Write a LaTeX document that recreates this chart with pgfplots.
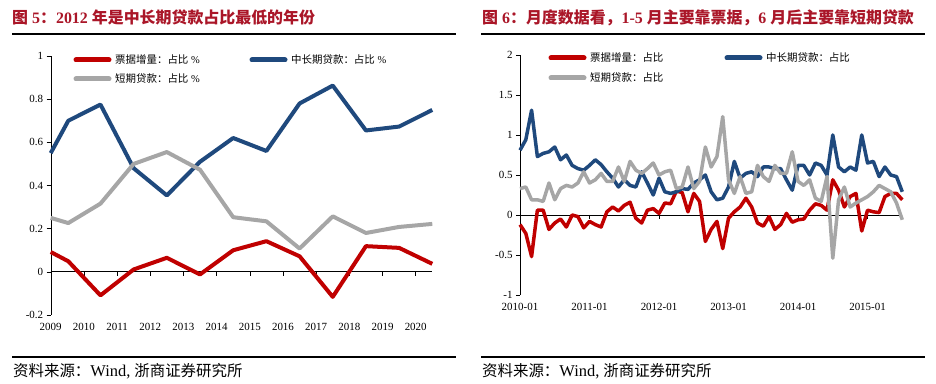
\documentclass[border=0pt]{standalone}
\usepackage{pgfplots}
\pgfplotsset{compat=1.18}
\usepackage{pgfplotstable}
\usepackage{fontspec}
\setmainfont{Liberation Serif}
\newfontfamily\cjk{Noto Sans CJK SC}
\definecolor{titlered}{RGB}{170,22,40}
\definecolor{lred}{RGB}{192,0,0}
\definecolor{lblue}{RGB}{31,73,125}
\definecolor{lgray}{RGB}{166,166,166}

\pgfplotstableread{
x red blue gray
2009 0.092 0.55 0.25
2009.53 0.049 0.70 0.226
2010.5 -0.109 0.775 0.316
2011.5 0.011 0.48 0.50
2012.5 0.065 0.354 0.555
2013.5 -0.012 0.51 0.473
2014.5 0.10 0.62 0.253
2015.5 0.142 0.56 0.234
2016.5 0.072 0.78 0.108
2017.5 -0.116 0.863 0.257
2018.5 0.119 0.655 0.18
2019.5 0.111 0.673 0.208
2020.5 0.037 0.75 0.222
}\yearly

\pgfplotstableread{
m red blue gray
0 -0.12 0.81 0.33
1 -0.23 0.94 0.35
2 -0.52 1.31 0.19
3 0.06 0.73 0.19
4 0.06 0.77 0.17
5 -0.18 0.79 0.40
6 -0.10 0.85 0.19
7 -0.05 0.69 0.33
8 -0.15 0.75 0.37
9 0.00 0.62 0.35
10 -0.02 0.58 0.40
11 -0.16 0.56 0.54
12 -0.08 0.62 0.40
13 -0.12 0.69 0.44
14 -0.15 0.63 0.52
15 0.04 0.54 0.42
16 0.10 0.46 0.42
17 0.05 0.35 0.60
18 0.12 0.44 0.42
19 0.16 0.37 0.67
20 -0.04 0.35 0.56
21 -0.10 0.54 0.52
22 0.06 0.40 0.58
23 0.08 0.25 0.65
24 0.02 0.46 0.50
25 0.15 0.29 0.54
26 0.14 0.27 0.56
27 0.30 0.29 0.33
28 0.28 0.33 0.35
29 0.04 0.32 0.60
30 0.27 0.40 0.33
31 0.17 0.44 0.42
32 -0.33 0.50 0.85
33 -0.18 0.29 0.60
34 -0.08 0.19 0.73
35 -0.42 0.21 1.23
36 -0.04 0.35 0.44
37 0.04 0.67 0.27
38 0.10 0.46 0.48
39 0.21 0.52 0.27
40 0.10 0.54 0.29
41 -0.10 0.48 0.62
42 -0.14 0.60 0.48
43 -0.02 0.60 0.42
44 -0.18 0.58 0.62
45 -0.12 0.58 0.52
46 0.02 0.44 0.52
47 -0.09 0.31 0.79
48 -0.06 0.62 0.42
49 -0.05 0.62 0.37
50 0.06 0.50 0.44
51 0.14 0.65 0.21
52 0.12 0.62 0.17
53 0.06 0.50 0.48
54 0.44 1.00 -0.54
55 0.31 0.60 0.19
56 0.10 0.54 0.35
57 0.23 0.60 0.10
58 0.27 0.56 0.15
59 -0.20 1.00 0.19
60 0.06 0.65 0.23
61 0.04 0.67 0.29
62 0.03 0.48 0.37
63 0.23 0.60 0.33
64 0.27 0.50 0.29
65 0.27 0.48 0.15
66 0.19 0.29 -0.06
}\monthly

\pgfplotsset{
  base/.style={
    scale only axis,
    anchor=south west,
    axis y line=left,
    axis x line=bottom,
    axis line style={-},
    x axis line style={draw=none},
    xtick style={draw=none},
    ytick style={black, line width=0.6pt},
    tick align=outside,
    major tick length=4bp,
    ytick pos=left,
    /pgf/number format/assume math mode=true,
    tick label style={font=\fontsize{11}{11}\selectfont},
    xticklabel style={yshift=-1bp},
    clip=false,
  },
}

\newcommand\source{{\cjk 资料来源：}{\fontsize{16.5}{16}\selectfont Wind,}\hspace{4bp}{\cjk 浙商证券研究所}}

\begin{document}
\begin{tikzpicture}
\useasboundingbox (0bp,0bp) rectangle (936bp,384bp);

% ---------- titles ----------
\node[anchor=base west, inner sep=0pt, text=titlered, font=\fontsize{16}{16}\selectfont\bfseries] at (12bp,360bp)
  {{\cjk 图} 5{\cjk ：}2012 {\cjk 年是中长期贷款占比最低的年份}};
\node[anchor=base west, inner sep=0pt, text=titlered, font=\fontsize{16}{16}\selectfont\bfseries] at (482bp,360bp)
  {{\cjk 图} 6{\cjk ：月度数据看，}1-5 {\cjk 月主要靠票据，}6 {\cjk 月后主要靠短期贷款}};
\draw[line width=1.2bp] (12bp,350bp) -- (456bp,350bp);
\draw[line width=1.2bp] (481bp,350bp) -- (925bp,350bp);
\draw[line width=1.2bp] (12bp,27bp) -- (456bp,27bp);
\draw[line width=1.2bp] (481bp,27bp) -- (925bp,27bp);
\node[anchor=base west, inner sep=0pt, font=\fontsize{15.5}{15.5}\selectfont] at (13bp,8bp) {\source};
\node[anchor=base west, inner sep=0pt, font=\fontsize{15.5}{15.5}\selectfont] at (482bp,8bp) {\source};

% ---------- left axis ----------
\begin{axis}[base,
  at={(50.7bp,69bp)}, width=381.6bp, height=259bp,
  xmin=2009, xmax=2020.5, ymin=-0.2, ymax=1,
  xtick={2009,2010,2011,2012,2013,2014,2015,2016,2017,2018,2019,2020},
  xticklabels={2009,2010,2011,2012,2013,2014,2015,2016,2017,2018,2019,2020},
  ytick={-0.2,0,0.2,0.4,0.6,0.8,1},
  yticklabels={-0.2,0,0.2,0.4,0.6,0.8,1},
]
\draw[black, line width=0.8pt] (axis cs:2009,0) -- (axis cs:2020.5,0);
\pgfplotsinvokeforeach{2010,2011,2012,2013,2014,2015,2016,2017,2018,2019,2020}{
  \draw[black, line width=0.6pt] (axis cs:#1,0) -- ([yshift=-4bp]axis cs:#1,0);
}
\addplot[lred, line width=4bp, line join=round] table[x=x,y=red] {\yearly};
\addplot[lblue, line width=4bp, line join=round] table[x=x,y=blue] {\yearly};
\addplot[lgray, line width=4bp, line join=round] table[x=x,y=gray] {\yearly};
\end{axis}

% ---------- right axis ----------
\begin{axis}[base,
  at={(520bp,89bp)}, width=382.3bp, height=240bp,
  xmin=0, xmax=66, ymin=-1, ymax=2,
  xtick={0,12,24,36,48,60},
  xticklabels={2010-01,2011-01,2012-01,2013-01,2014-01,2015-01},
  ytick={-1,-0.5,0,0.5,1,1.5,2},
  yticklabels={-1,-0.5,0,0.5,1,1.5,2},
]
\draw[black, line width=0.8pt] (axis cs:0,0) -- (axis cs:66,0);
\pgfplotsinvokeforeach{12,24,36,48,60}{
  \draw[black, line width=0.6pt] (axis cs:#1,0) -- ([yshift=-4bp]axis cs:#1,0);
}
\addplot[lred, line width=3.5bp, line join=round] table[x=m,y=red] {\monthly};
\addplot[lblue, line width=3.5bp, line join=round] table[x=m,y=blue] {\monthly};
\addplot[lgray, line width=3.5bp, line join=round] table[x=m,y=gray] {\monthly};
\end{axis}

% ---------- legends ----------
\begin{scope}[line width=5bp, line cap=round]
\draw[lred]  (76bp,324bp) -- (109bp,324bp);
\draw[lblue] (252bp,324bp) -- (285bp,324bp);
\draw[lgray] (76bp,305bp) -- (109bp,305bp);
\draw[lred]  (551bp,326bp) -- (584bp,326bp);
\draw[lblue] (727bp,326bp) -- (760bp,326bp);
\draw[lgray] (551bp,306bp) -- (584bp,306bp);
\end{scope}
\begin{scope}[every node/.style={anchor=west, inner sep=0pt, font=\fontsize{10.5}{10.5}\selectfont}]
\node at (115bp,324bp) {{\cjk 票据增量：占比} \%};
\node at (291bp,324bp) {{\cjk 中长期贷款：占比} \%};
\node at (115bp,305bp) {{\cjk 短期贷款：占比} \%};
\node at (590bp,326bp) {{\cjk 票据增量：占比}};
\node at (766bp,326bp) {{\cjk 中长期贷款：占比}};
\node at (590bp,306bp) {{\cjk 短期贷款：占比}};
\end{scope}
\end{tikzpicture}
\end{document}
